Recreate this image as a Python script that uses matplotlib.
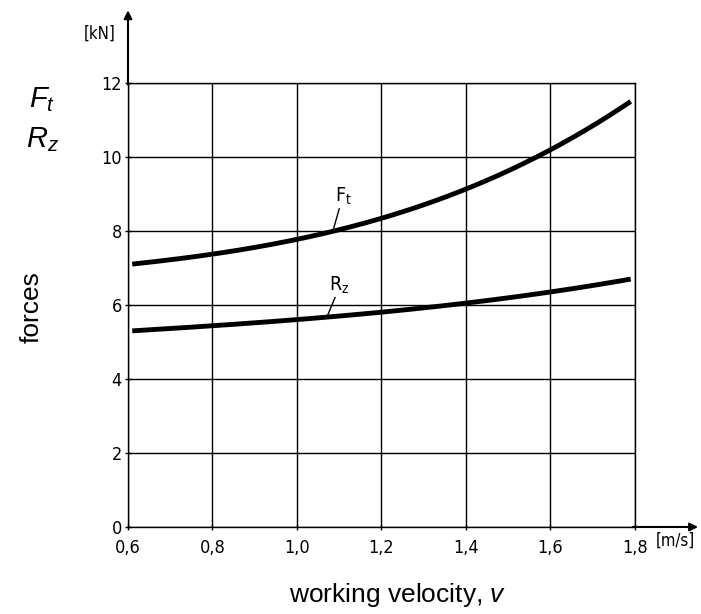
import numpy as np
import matplotlib.pyplot as plt
from matplotlib import font_manager

# Data
velocity = [0.61, 0.8, 1.0, 1.1, 1.2, 1.4, 1.57, 1.6, 1.79]
force_ft = [7.1, 7.38, 7.8, 8.0, 8.33, 9.16, 10.0, 10.2, 11.5]
velocity_rz = [0.61, 0.8, 1.0, 1.2, 1.4, 1.6, 1.79]
force_rz = [5.3, 5.44, 5.6, 5.81, 6.05, 6.35, 6.7]

x_ticks = [0.6, 0.8, 1.0, 1.2, 1.4, 1.6, 1.8]
y_ticks = [0, 2, 4, 6, 8, 10, 12]

plt.rcParams['mathtext.fontset'] = 'custom'
plt.rcParams['mathtext.rm'] = 'Liberation Sans'
plt.rcParams['mathtext.it'] = 'Liberation Sans:italic'

# narrow font for the tick numbers, like the drawing
names = {f.name for f in font_manager.fontManager.ttflist}
tick_font = 'Liberation Sans Narrow' if 'Liberation Sans Narrow' in names else 'DejaVu Sans'
narrow = dict(fontname=tick_font, fontstretch='condensed')

fig = plt.figure(figsize=(7.01, 6.14), dpi=100)
ax = fig.add_axes([0.1826, 0.1417, 0.7232, 0.7232])


def smooth(xs, ys):
    # cubic fit through the points
    xx = np.linspace(xs[0], xs[-1], 200)
    c = np.polyfit(xs, ys, 3)
    return xx, np.polyval(c, xx)


x1, y1 = smooth(velocity, force_ft)
x2, y2 = smooth(velocity_rz, force_rz)
ax.plot(x1, y1, color='black', lw=3.5, solid_capstyle='butt', zorder=3)
ax.plot(x2, y2, color='black', lw=3.5, solid_capstyle='butt', zorder=3)

ax.set_xlim(0.6, 1.8)
ax.set_ylim(0, 12)
ax.set_xticks(x_ticks)
ax.set_yticks(y_ticks)
ax.set_xticklabels([f'{v:.1f}'.replace('.', ',') for v in x_ticks], fontsize=13, **narrow)
ax.set_yticklabels([str(v) for v in y_ticks], fontsize=13, **narrow)
ax.tick_params(direction='inout', length=5, width=1, pad=2)
ax.tick_params(axis='x', pad=6)
ax.grid(True, color='black', lw=1)
for s in ax.spines.values():
    s.set_linewidth(1)

# axis arrows
ax.annotate('', xy=(0, 1.17), xytext=(0, 0.99), xycoords='axes fraction',
            arrowprops=dict(arrowstyle='-|>', color='black', lw=1.5, mutation_scale=12))
ax.annotate('', xy=(1.13, 0), xytext=(0.99, 0), xycoords='axes fraction',
            arrowprops=dict(arrowstyle='-|>', color='black', lw=1.5, mutation_scale=12))
ax.text(-0.055, 1.11, '[kN]', transform=ax.transAxes, fontsize=12,
        ha='center', va='center', **narrow)
ax.text(1.08, -0.03, '[m/s]', transform=ax.transAxes, fontsize=12,
        ha='center', va='center', **narrow)

# curve labels with leader lines
ax.text(1.11, 8.97, 'F$_\\mathregular{t}$', fontsize=14, ha='center', va='center', **narrow)
ax.plot([1.10, 1.085], [8.6, 8.0], color='black', lw=1)
ax.text(1.10, 6.55, 'R$_\\mathregular{z}$', fontsize=14, ha='center', va='center', **narrow)
ax.plot([1.09, 1.07], [6.2, 5.65], color='black', lw=1)

# outer labels
fig.text(0.06, 0.837, '$F_t$', fontsize=21, ha='center', va='center')
fig.text(0.06, 0.772, '$R_z$', fontsize=21, ha='center', va='center')
fig.text(0.045, 0.5, 'forces', fontsize=19, rotation=90, ha='center', va='center',
         fontname='Liberation Sans')
fig.text(0.567, 0.031, 'working velocity, $v$', fontsize=19, ha='center', va='center',
         fontname='Liberation Sans')

fig.savefig('out.png', dpi=100)
